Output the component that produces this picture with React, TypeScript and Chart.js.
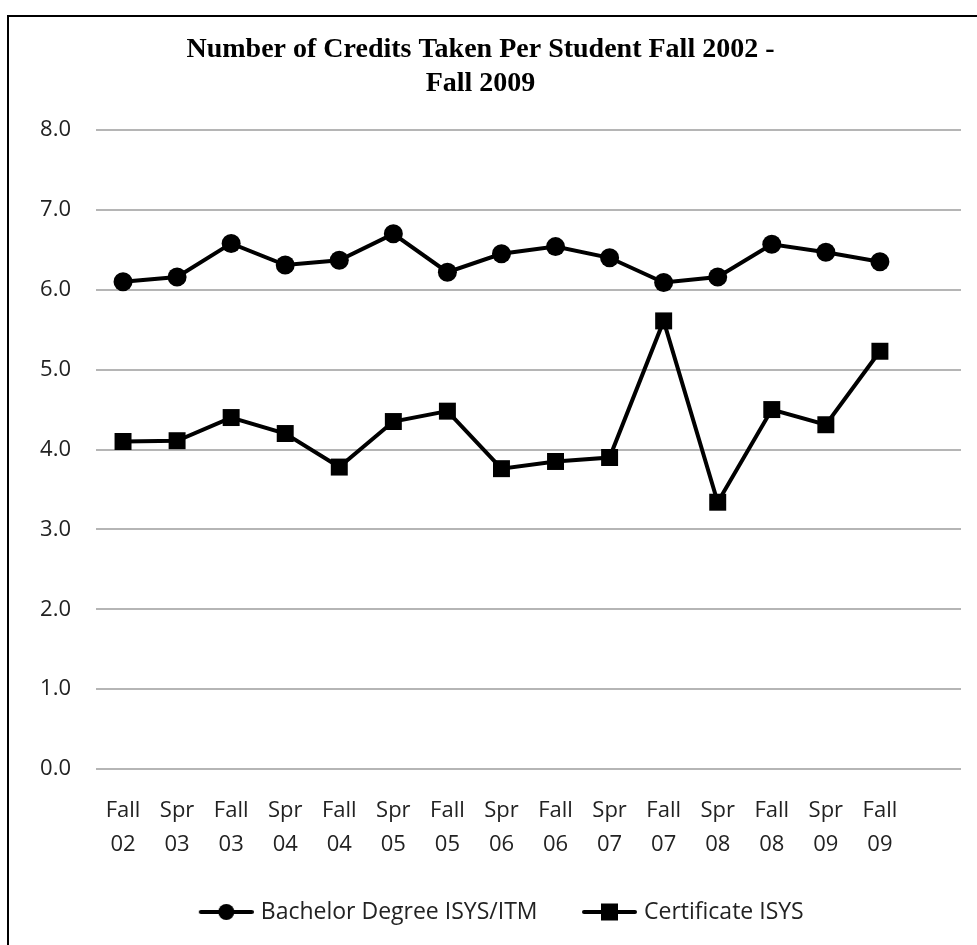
import { useEffect, useRef } from 'react';
import { Chart, registerables } from 'chart.js';

Chart.register(...registerables);

const categories: (string | string[])[] = [
  ['Fall', '02'], ['Spr', '03'], ['Fall', '03'], ['Spr', '04'], ['Fall', '04'],
  ['Spr', '05'], ['Fall', '05'], ['Spr', '06'], ['Fall', '06'], ['Spr', '07'],
  ['Fall', '07'], ['Spr', '08'], ['Fall', '08'], ['Spr', '09'], ['Fall', '09'],
  '',
];

const bachelor = [6.10, 6.16, 6.58, 6.31, 6.37, 6.70, 6.22, 6.45, 6.54, 6.40, 6.09, 6.16, 6.57, 6.47, 6.35];
const certificate = [4.10, 4.11, 4.40, 4.20, 3.78, 4.35, 4.48, 3.76, 3.85, 3.90, 5.61, 3.34, 4.50, 4.31, 5.23];

const seriesNames = ['Bachelor Degree ISYS/ITM', 'Certificate ISYS'];
const titleLines = ['Number of Credits Taken Per Student Fall 2002 -', 'Fall 2009'];
const yMin = 0;
const yMax = 8;
const yStep = 1;

const SANS = '"Open Sans", "Noto Sans", sans-serif';
const SERIF = '"Liberation Serif", "Times New Roman", serif';

function makeSymbol(kind: 'circle' | 'rect'): HTMLCanvasElement {
  const c = document.createElement('canvas');
  c.width = 101;
  c.height = 20;
  const ctx = c.getContext('2d')!;
  ctx.strokeStyle = '#000';
  ctx.fillStyle = '#000';
  ctx.lineWidth = 4;
  ctx.lineCap = 'round';
  ctx.beginPath();
  ctx.moveTo(48, 10);
  ctx.lineTo(99, 10);
  ctx.stroke();
  const cx = 73.5;
  if (kind === 'circle') {
    ctx.beginPath();
    ctx.arc(cx, 10, 8, 0, Math.PI * 2);
    ctx.fill();
  } else {
    ctx.fillRect(cx - 8.5, 1.5, 17, 17);
  }
  return c;
}

export default function App() {
  const ref = useRef<HTMLCanvasElement>(null);

  useEffect(() => {
    if (!ref.current) return;
    const symbols = [makeSymbol('circle'), makeSymbol('rect')];
    const chart = new Chart(ref.current, {
      type: 'line',
      data: {
        labels: categories,
        datasets: [
          {
            label: seriesNames[0],
            data: bachelor,
            borderColor: '#000',
            backgroundColor: '#000',
            borderWidth: 4,
            pointStyle: 'circle',
            pointRadius: 9.5,
            pointBackgroundColor: '#000',
            pointBorderColor: '#000',
            pointBorderWidth: 0,
            tension: 0,
          },
          {
            label: seriesNames[1],
            data: certificate,
            borderColor: '#000',
            backgroundColor: '#000',
            borderWidth: 4,
            pointStyle: 'rect',
            pointRadius: 12,
            pointBackgroundColor: '#000',
            pointBorderColor: '#000',
            pointBorderWidth: 0,
            tension: 0,
          },
        ],
      },
      options: {
        animation: false,
        responsive: false,
        maintainAspectRatio: false,
        layout: { padding: { left: 0, right: 16, top: 0, bottom: 11.5 } },
        plugins: {
          title: {
            display: true,
            text: titleLines,
            color: '#000',
            font: { family: SERIF, size: 28, weight: 'bold', lineHeight: 1.2 },
            padding: { top: 33.2, bottom: 29.6 },
          },
          legend: {
            position: 'bottom',
            labels: {
              usePointStyle: true,
              pointStyleWidth: 92,
              boxHeight: 20,
              padding: 3,
              color: '#222',
              font: { family: SANS, size: 23 },
              generateLabels: (ch: any) =>
                ch.data.datasets.map((d: any, i: number) => ({
                  text: d.label,
                  pointStyle: symbols[i],
                  fillStyle: '#000',
                  strokeStyle: '#000',
                  lineWidth: 0,
                  hidden: false,
                  datasetIndex: i,
                  fontColor: '#222',
                })),
            },
          },
          tooltip: { enabled: false },
        },
        scales: {
          x: {
            offset: true,
            grid: { display: false, drawTicks: false },
            border: { display: false },
            ticks: {
              padding: 25,
              maxRotation: 0,
              autoSkip: false,
              color: '#222',
              font: { family: SANS, size: 22, lineHeight: 1.55 },
            },
            afterFit: (s: any) => {
              s.height = 128.5;
            },
          },
          y: {
            min: yMin,
            max: yMax,
            ticks: {
              stepSize: yStep,
              padding: 25,
              color: '#222',
              font: { family: SANS, size: 22 },
              callback: (v: any) => Number(v).toFixed(1),
            },
            grid: { color: '#b5b5b5', lineWidth: 2, drawTicks: false },
            border: { display: false },
            afterFit: (s: any) => {
              s.width = 96;
            },
          },
        },
      },
    } as any);
    return () => chart.destroy();
  }, []);

  return (
    <div
      style={{
        position: 'fixed',
        left: 0,
        top: 0,
        width: 977,
        height: 945,
        overflow: 'hidden',
        background: '#fff',
      }}
    >
      <canvas
        ref={ref}
        width={977}
        height={945}
        style={{ position: 'absolute', left: 0, top: 0, width: 977, height: 945 }}
      />
      <div
        style={{
          position: 'absolute',
          left: 7,
          top: 15,
          width: 1100,
          height: 1100,
          border: '2px solid #000',
          pointerEvents: 'none',
        }}
      />
    </div>
  );
}
